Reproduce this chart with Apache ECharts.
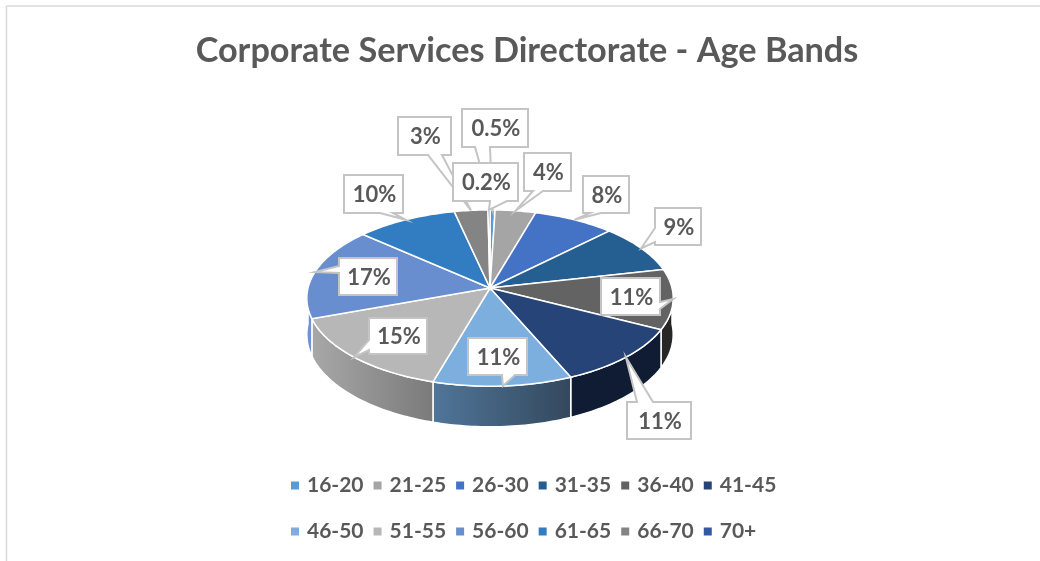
<!DOCTYPE html>
<html>
<head>
<meta charset="utf-8">
<style>
  html, body { margin: 0; padding: 0; background: #fff; }
  #chart { width: 1040px; height: 561px; }
</style>
<script src="https://cdn.jsdelivr.net/npm/echarts@6/dist/echarts.min.js"></script>
</head>
<body>
<div id="chart"></div>
<script>
const ageBands = ["16-20", "21-25", "26-30", "31-35", "36-40", "41-45", "46-50", "51-55", "56-60", "61-65", "66-70", "70+"];
const sharePercent = [0.5, 4, 8, 9, 11, 11, 11, 15, 17, 10, 3.3, 0.2];
const bandColors = ["#5b9bd5", "#a5a5a5", "#4472c4", "#255e91", "#636363", "#264478", "#7cafdd", "#b7b7b7", "#698ed0", "#327dc2", "#848484", "#335aa1"];
// side wall shades, left to right (only the front facing slices show one)
const wallColors = [null, null, null, null, ["#262626", "#262626"], ["#0f1c33", "#0f1c33"], ["#50769a", "#33485c"], ["#a8a8a8", "#7a7a7a"], ["#6f93d3", "#6f93d3"], null, null, null];

// Fake 3D: a circle seen in perspective, fitted to the picture
const pie = { cx: 490, cy: 288, a: 182, b: 87, k: 0.114, depth: 36 };

// Callout boxes: x, y, w, h, then which side the tail leaves from and where along it
const callouts = [
  { x: 462, y: 109, w: 66, h: 38, side: "bottom", from: 475, to: 490 },
  { x: 524, y: 153, w: 47, h: 38, side: "bottom", from: 533, to: 543 },
  { x: 583, y: 176, w: 46, h: 37, side: "bottom", from: 590, to: 601 },
  { x: 655, y: 208, w: 46, h: 37, side: "left", from: 228, to: 242 },
  { x: 601, y: 278, w: 59, h: 37, side: "right", from: 302, to: 309 },
  { x: 627, y: 402, w: 64, h: 37, side: "top", from: 637, to: 653 },
  { x: 468, y: 338, w: 59, h: 37, side: "bottom", from: 502, to: 515 },
  { x: 369, y: 318, w: 58, h: 36, side: "left", from: 340, to: 350 },
  { x: 339, y: 258, w: 58, h: 37, side: "left", from: 266, to: 273 },
  { x: 344, y: 175, w: 59, h: 38, side: "bottom", from: 380, to: 393 },
  { x: 398, y: 117, w: 53, h: 38, side: "bottom", from: 428, to: 442 },
  { x: 453, y: 163, w: 65, h: 38, side: "bottom", from: 490, to: 507 },
];

const total = sharePercent.reduce((s, v) => s + v, 0);
const toAngle = (v) => (v / total) * Math.PI * 2;

const rimPoint = (angle, drop) => {
  const den = 1 + pie.k * Math.cos(angle);
  return [
    pie.cx + (pie.a * Math.sin(angle)) / den,
    pie.cy + (drop - pie.b * Math.cos(angle)) / den,
  ];
};

const arcPoints = (start, end, drop) => {
  const steps = Math.max(2, Math.ceil((end - start) / 0.02));
  const pts = [];
  for (let i = 0; i <= steps; i++) {
    pts.push(rimPoint(start + ((end - start) * i) / steps, drop));
  }
  return pts;
};

const renderSlice = (bandIndex) => (params, api) => {
  const start = toAngle(api.value(0));
  const end = toAngle(api.value(1));
  const children = [];

  // only the near half of the rim has a wall below it
  const wallStart = Math.max(start, Math.PI / 2);
  const wallEnd = Math.min(end, (Math.PI * 3) / 2);
  if (wallColors[bandIndex] && wallEnd > wallStart) {
    const topEdge = arcPoints(wallStart, wallEnd, 0);
    const bottomEdge = arcPoints(wallStart, wallEnd, pie.depth).reverse();
    const shade = wallColors[bandIndex];
    children.push({
      type: "polygon",
      z2: 1,
      shape: { points: topEdge.concat(bottomEdge) },
      style: {
        fill: new echarts.graphic.LinearGradient(0, 0, 1, 0, [
          { offset: 0, color: shade[0] },
          { offset: 1, color: shade[1] },
        ]),
        stroke: "#fff",
        lineWidth: 1.5,
      },
    });
  }

  children.push({
    type: "polygon",
    z2: 2,
    shape: { points: [[pie.cx, pie.cy]].concat(arcPoints(start, end, 0)) },
    style: { fill: bandColors[bandIndex], stroke: "#fff", lineWidth: 1.5 },
  });

  return { type: "group", children };
};

const calloutOutline = (c, tip) => {
  const x2 = c.x + c.w;
  const y2 = c.y + c.h;
  const lo = Math.min(c.from, c.to);
  const hi = Math.max(c.from, c.to);
  const pts = [[c.x, c.y]];
  if (c.side === "top") pts.push([lo, c.y], tip, [hi, c.y]);
  pts.push([x2, c.y]);
  if (c.side === "right") pts.push([x2, lo], tip, [x2, hi]);
  pts.push([x2, y2]);
  if (c.side === "bottom") pts.push([hi, y2], tip, [lo, y2]);
  pts.push([c.x, y2]);
  if (c.side === "left") pts.push([c.x, hi], tip, [c.x, lo]);
  return pts;
};

const formatShare = (v) => (v < 1 ? v : Math.round(v)) + "%";

const renderCallout = (params, api) => {
  const i = params.dataIndex;
  const c = callouts[i];
  const tip = rimPoint(toAngle(api.value(0)), 0);
  return {
    type: "group",
    children: [
      {
        type: "polygon",
        z2: 10 + i * 2,
        shape: { points: calloutOutline(c, tip) },
        style: { fill: "#fff", stroke: "#c4c4c4", lineWidth: 2 },
      },
      {
        type: "text",
        z2: 11 + i * 2,
        style: {
          text: formatShare(sharePercent[i]),
          x: c.x + c.w / 2 + 1,
          y: c.y + c.h / 2 + 1,
          align: "center",
          verticalAlign: "middle",
          fill: "#595959",
          font: 'bold 22px Lato, "Noto Sans", sans-serif',
        },
      },
    ],
  };
};

// cumulative start/end of each band, in percent
let running = 0;
const sliceRanges = sharePercent.map((v) => {
  const range = [running, running + v];
  running += v;
  return range;
});

const sliceSeries = ageBands.map((name, i) => ({
  name,
  type: "custom",
  coordinateSystem: "none",
  silent: true,
  itemStyle: { color: bandColors[i] },
  data: [sliceRanges[i]],
  renderItem: renderSlice(i),
}));

const calloutSeries = {
  name: "callouts",
  type: "custom",
  coordinateSystem: "none",
  silent: true,
  data: sliceRanges.map((r) => [(r[0] + r[1]) / 2]),
  renderItem: renderCallout,
};

const legendRow = (names, top) => ({
  data: names,
  left: 291,
  top,
  orient: "horizontal",
  icon: "rect",
  itemWidth: 8,
  itemHeight: 8,
  itemGap: 10,
  selectedMode: false,
  padding: 0,
  textStyle: {
    color: "#595959",
    fontFamily: 'Lato, "Noto Sans", sans-serif',
    fontWeight: "bold",
    fontSize: 21,
    padding: [0, 0, 0, 3],
    width: 60,
    overflow: "none",
  },
});

const chart = echarts.init(document.getElementById("chart"));
chart.setOption({
  animation: false,
  backgroundColor: "#fff",
  title: {
    text: "Corporate Services Directorate - Age Bands",
    left: 522,
    top: 29,
    textAlign: "center",
    textStyle: {
      color: "#595959",
      fontFamily: 'Lato, "Noto Sans", sans-serif',
      fontWeight: "bold",
      fontSize: 34.25,
    },
  },
  legend: [
    legendRow(ageBands.slice(0, 6), 475),
    legendRow(ageBands.slice(6), 521),
  ],
  // frame of the original chart area, cut off at the picture edge
  graphic: [
    { type: "line", silent: true, shape: { x1: 6.5, y1: 6, x2: 1040, y2: 6 }, style: { stroke: "#d9d9d9", lineWidth: 1.5 } },
    { type: "line", silent: true, shape: { x1: 6.5, y1: 6, x2: 6.5, y2: 561 }, style: { stroke: "#d9d9d9", lineWidth: 1.5 } },
  ],
  series: sliceSeries.concat(calloutSeries),
});
</script>
</body>
</html>
